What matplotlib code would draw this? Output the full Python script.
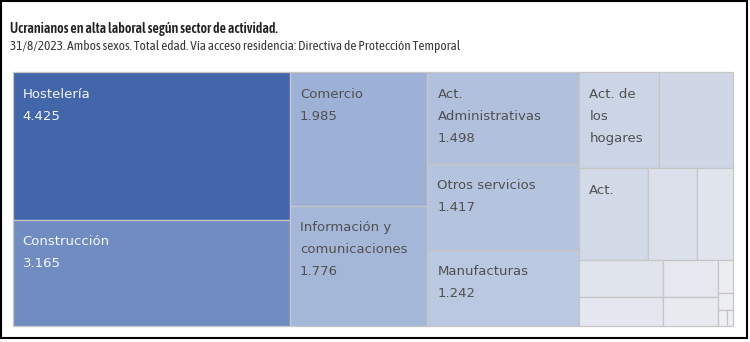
import matplotlib
matplotlib.use('Agg')
import matplotlib.pyplot as plt
from matplotlib.patches import Rectangle
from matplotlib.colors import LinearSegmentedColormap

# Ucranianos en alta laboral por sector (31/8/2023)
sectors = ['Hostelería', 'Construcción', 'Comercio', 'Información y comunicaciones',
           'Act. Administrativas', 'Otros servicios', 'Manufacturas',
           'Act. de los hogares', 'Transporte', 'Act. profesionales', 'Educación',
           'Agricultura', 'Administración Pública', 'Inmobiliarias', 'Financieras',
           'Sanidad', 'Act. artísticas', 'Energía', 'Agua y saneamiento', 'Extractivas']
values = [4425, 3165, 1985, 1776, 1498, 1417, 1242,
          830, 762, 688, 482, 362, 334, 256, 219, 168, 52, 27, 14, 10]

title = 'Ucranianos en alta laboral según sector de actividad.'
subtitle = ('31/8/2023. Ambos sexos. Total edad. Vía acceso residencia: '
            'Directiva de Protección Temporal')

# how many items go in each strip; a nested list = lay out the rest inside
PLAN = [2, 2, 3, [2, 3, [2, 2, [1, 1, 2]]]]


def layout(vals, x, y, w, h, plan):
    rects = []
    i = 0
    for step in plan:
        if isinstance(step, list):
            rects += layout(vals[i:], x, y, w, h, step)
            break
        grp = vals[i:i + step]
        s = sum(grp)
        rest = sum(vals[i:])
        if w >= h:
            sw = w * s / rest
            yy = y
            for v in grp:
                hh = h * v / s
                rects.append((x, yy, sw, hh))
                yy += hh
            x += sw
            w -= sw
        else:
            sh = h * s / rest
            xx = x
            for v in grp:
                ww = w * v / s
                rects.append((xx, y, ww, sh))
                xx += ww
            y += sh
            h -= sh
        i += step
    return rects


def text_width(s):
    tmp = ax.text(0, 0, s, fontsize=cell_size, family=cell_font)
    wd = tmp.get_window_extent(renderer).width
    tmp.remove()
    return wd


cmap = LinearSegmentedColormap.from_list(
    'tblue', [(0, '#eeeff2'), (0.45, '#9cb0d6'), (1, '#4266a9')])

head_font = ['Asap Condensed', 'Liberation Sans']

fig = plt.figure(figsize=(7.5, 3.42), dpi=100)
ax = fig.add_axes([0, 0, 1, 1])
ax.set_xlim(0, 750)
ax.set_ylim(342, 0)
ax.axis('off')

# outer frame
ax.add_patch(Rectangle((1, 1), 746, 337, fill=False, edgecolor='black', lw=1.5))

ax.text(10, 29.5, title, fontsize=10, fontweight='semibold', color='#222222',
        family=head_font, va='center', ha='left')
ax.text(10, 46.5, subtitle, fontsize=9.5, color='#3a3a3a',
        family=head_font, va='center', ha='left')

cell_font = ['DejaVu Sans']
cell_size = 9.5
renderer = fig.canvas.get_renderer()
vmax = max(values)
rects = layout(values, 12.7, 72.3, 720.3, 253.2, PLAN)

for name, v, (x, y, w, h) in zip(sectors, values, rects):
    t = v / vmax
    ax.add_patch(Rectangle((x, y), w, h, facecolor=cmap(t),
                           edgecolor='#c6c6c6', lw=0.9))
    tc = '#f4f6fa' if t > 0.6 else '#505050'

    # wrap the label inside the cell, Tableau style
    avail = w - 24
    lines = []
    cur = ''
    complete = True
    for word in name.split():
        trial = word if cur == '' else cur + ' ' + word
        if text_width(trial) <= avail:
            cur = trial
            continue
        if cur == '' or text_width(word) > avail:
            complete = False
            break
        lines.append(cur)
        cur = word
    if cur:
        lines.append(cur)
    if complete:
        lines.append(f'{v:,}'.replace(',', '.'))

    for k, line in enumerate(lines):
        off = 22 + k * 22
        if off + 12 > h:
            break
        ax.text(x + 10, y + off, line, fontsize=cell_size, family=cell_font,
                color=tc, va='center', ha='left')

fig.savefig('out.png', dpi=100)
